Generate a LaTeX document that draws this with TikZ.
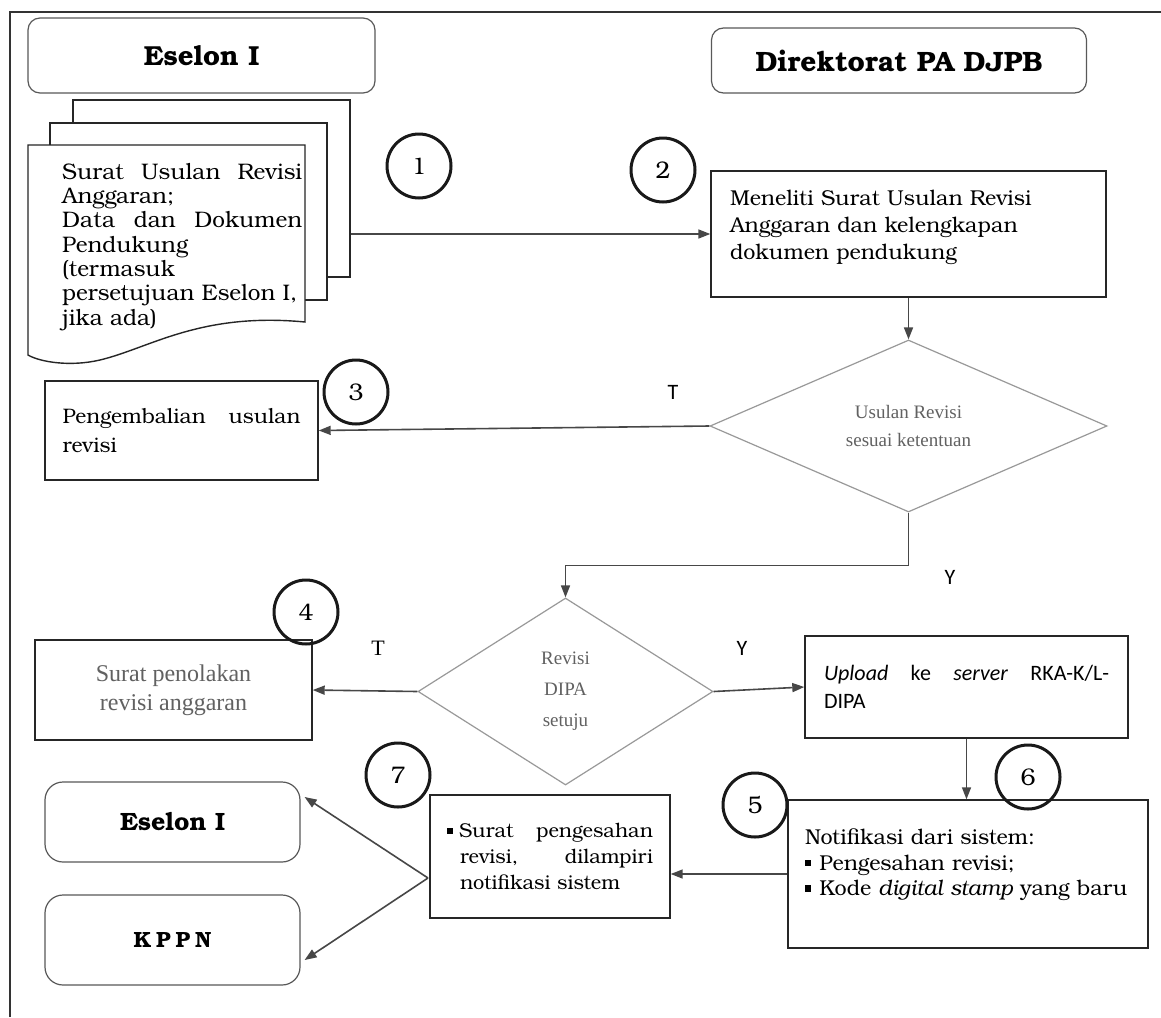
\documentclass[tikz,border=0pt]{standalone}
\usepackage{fontspec}
\setmainfont{TeX Gyre Bonum}
\newfontfamily\timesf{Liberation Serif}
\newfontfamily\calib{Carlito}
\usetikzlibrary{shapes.geometric,arrows.meta,calc}
\newcommand{\mybul}{\rule[0.18em]{0.3em}{0.3em}}
\tikzset{
  ln/.style={draw=black!72, line width=1.6pt},
  arr/.style={ln, -{Triangle[length=12pt,width=9pt]}},
  pg/.style={draw=black!85, line width=1.4pt, fill=white},
  box/.style={draw=black!85, line width=1.4pt, fill=white, inner sep=0pt},
  hdr/.style={draw=black!65, line width=1.2pt, rounded corners=12pt, inner sep=0pt},
  rbox/.style={draw=black!65, line width=1.2pt, rounded corners=18pt, inner sep=0pt},
  num/.style={circle, draw=black!90, line width=3pt, minimum size=64pt, inner sep=0pt, font=\fontsize{24}{24}\selectfont},
  dia/.style={diamond, draw=black!40, line width=1.2pt, inner sep=0pt, text=black!62, font=\timesf\fontsize{19}{28}\selectfont, align=center},
  lbl/.style={font=\calib\fontsize{22}{22}\selectfont, inner sep=0pt},
}
\begin{document}
\begin{tikzpicture}[x=1pt,y=-1pt]
\useasboundingbox (0,0) rectangle (1161,1017);
\fill[white] (0,0) rectangle (1161,1017);
% frame
\draw[line width=1.3pt, black!80] (10,1017) -- (10,12) -- (1161,12);

% headers
\node[hdr, minimum width=347pt, minimum height=75pt, font=\bfseries\fontsize{27.5}{27.5}\selectfont] (h1) at (201.5,55.5) {Eselon I};
\node[hdr, minimum width=375pt, minimum height=65pt, font=\bfseries\fontsize{28}{28}\selectfont] (h2) at (899,60.5) {Direktorat PA DJPB};

% document stack
\node[pg, minimum width=277pt, minimum height=177pt, inner sep=0pt] (pgback) at (211.5,188.5) {};
\node[pg, minimum width=277pt, minimum height=177pt, inner sep=0pt] (pgmid) at (188.5,211.5) {};
\draw[pg] (28,145) -- (305,145) -- (305,322) .. controls (200,312) and (150,348) .. (100,360) .. controls (70,367) and (40,362) .. (28,355) -- cycle;
\node[anchor=north west, inner sep=0pt, align=left, font=\fontsize{22.5}{24.3}\selectfont] (doctext) at (62,163)
  {\makebox[240pt][l]{Surat\hfill Usulan\hfill Revisi}\\Anggaran;\\\makebox[240pt][l]{Data\hfill dan\hfill Dokumen}\\Pendukung\\(termasuk\\persetujuan Eselon I,\\jika ada)};

% box 2
\node[box, minimum width=395pt, minimum height=126pt, text width=357pt, align=left, font=\fontsize{21.5}{27}\selectfont] (b2) at (908.5,234)
  {Meneliti Surat Usulan Revisi\\Anggaran dan kelengkapan\\dokumen pendukung\\[-8pt]\mbox{}};
\draw[arr] (pgback.east |- b2.west) -- (b2.west);

% diamond 1
\node[dia, minimum width=397pt, minimum height=172pt] (d1) at (908.5,426) {Usulan Revisi\\sesuai ketentuan};
\draw[arr] (b2.south) -- (d1.north);

% box 3
\node[box, minimum width=273pt, minimum height=99pt, text width=238pt, align=left, font=\fontsize{21}{29}\selectfont] (b3) at (181.5,430.5)
  {\makebox[238pt][l]{Pengembalian\hfill usulan}\\revisi};
\draw[arr] (d1.west) -- (b3.east);

% diamond 2
\node[dia, minimum width=295pt, minimum height=187pt, font=\timesf\fontsize{19}{31}\selectfont] (d2) at (565.5,691.5) {Revisi\\DIPA\\setuju};
\draw[arr] (d1.south) -- ++(0,53) -| (d2.north);

% box 4
\node[box, minimum width=277pt, minimum height=100pt, align=center, text=black!62, font=\timesf\fontsize{24}{29}\selectfont] (b4) at (173.5,690)
  {Surat penolakan\\revisi anggaran};
\draw[arr] (d2.west) -- (b4.east);

% upload box
\node[box, minimum width=323pt, minimum height=102pt, text width=285pt, align=left, font=\calib\fontsize{22}{28}\selectfont] (up) at (966.5,687)
  {\makebox[285pt][l]{\textit{Upload}\hfill ke\hfill \textit{server}\hfill RKA-K/L-}\\DIPA};
\draw[arr] (d2.east) -- (up.west);

% notif box
\node[box, minimum width=360pt, minimum height=148pt, text width=326pt, align=left, font=\fontsize{21.5}{25.5}\selectfont] (nt) at (968,874)
  {Notifikasi dari sistem:\\\mybul\kern8pt Pengesahan revisi;\\\mybul\kern8pt Kode \textit{digital stamp} yang baru\\[-2pt]\mbox{}};
\draw[arr] (up.south) -- (up.south |- nt.north);

% box 7
\node[box, minimum width=240pt, minimum height=123pt, text width=206pt, align=left, font=\fontsize{20}{26}\selectfont] (b7) at (550,856.5)
  {\makebox[206pt][l]{\mybul\kern6pt Surat\hfill pengesahan}\\\hspace*{13pt}\makebox[193pt][l]{revisi,\hfill dilampiri}\\\hspace*{13pt}notifikasi sistem};
\draw[arr] (nt.west) -- (b7.east |- nt.west);

% bottom-left boxes
\node[rbox, minimum width=255pt, minimum height=80pt, font=\bfseries\fontsize{25}{25}\selectfont] (e1) at (172.5,822) {Eselon I};
\node[rbox, minimum width=255pt, minimum height=90pt, font=\bfseries\fontsize{22}{22}\selectfont] (kp) at (172.5,940) {K\kern5pt P\kern5pt P\kern5pt N};
\coordinate (split) at (428,878);
\draw[arr] (split) -- ($(e1.east)+(4,-25)$);
\draw[arr] (split) -- ($(kp.east)+(4,20)$);

% numbered circles
\node[num] (c1) at (419,166) {1};
\node[num] (c2) at (663,170) {2};
\node[num] (c3) at (356,392) {3};
\node[num] (c4) at (306,612) {4};
\node[num] (c5) at (755,805) {5};
\node[num] (c6) at (1028,777) {6};
\node[num] (c7) at (398,775) {7};

% branch labels
\node[lbl] (t1) at (673,392) {T};
\node[lbl] (y1) at (950,577) {Y};
\node[lbl, font=\timesf\fontsize{22}{22}\selectfont] (t2) at (378,648) {T};
\node[lbl] (y2) at (742,648) {Y};
\end{tikzpicture}
\end{document}
